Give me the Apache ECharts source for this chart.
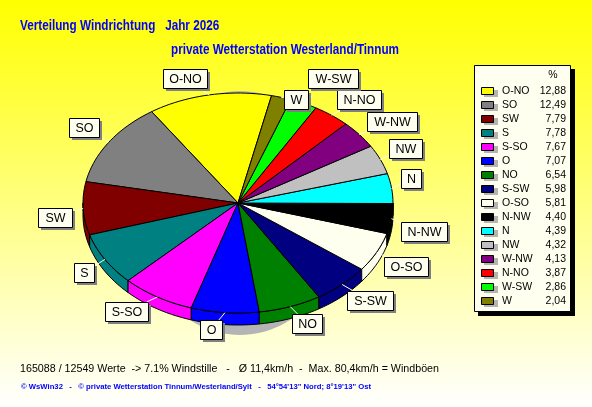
<!DOCTYPE html>
<html><head><meta charset="utf-8">
<style>html,body{margin:0;padding:0;background:#fff}#c{width:592px;height:407px}</style>
<script src="https://cdn.jsdelivr.net/npm/echarts@6/dist/echarts.min.js"></script>
</head><body><div id="c"></div>
<script>
var categories = ['O-NO','SO','SW','S','S-SO','O','NO','S-SW','O-SO','N-NW','N','NW','W-NW','N-NO','W-SW','W'];
var shares = [12.88,12.49,7.79,7.78,7.67,7.07,6.54,5.98,5.81,4.40,4.39,4.32,4.13,3.87,2.86,2.04];
var shareLabels = ['12,88','12,49','7,79','7,78','7,67','7,07','6,54','5,98','5,81','4,40','4,39','4,32','4,13','3,87','2,86','2,04'];
var colors = ['#ffff00','#808080','#800000','#008080','#ff00ff','#0000ff','#008000','#000080','#fffff0','#000000','#00ffff','#c0c0c0','#800080','#ff0000','#00ff00','#808000'];
var titleA = 'Verteilung Windrichtung   Jahr 2026';
var titleB = 'private Wetterstation Westerland/Tinnum';
var statLine = '165088 / 12549 Werte  -> 7.1% Windstille   -   Ø 11,4km/h  -  Max. 80,4km/h = Windböen';
var creditLine = '© WsWin32   -   © private Wetterstation Tinnum/Westerland/Sylt   -   54°54\'13" Nord; 8°19\'13" Ost';

/* layout (not data) */
var P = {cx:238, cy:203, rx:155, ry:110, depth:12, startDeg:77.5};
var labelBoxes = {
 'O-NO':[163,69,44],'SO':[69,118,30],'W':[284,90,24],'W-SW':[308,69,50],'N-NO':[337,90,44],'W-NW':[367,112,50],
 'NW':[389,139,33],'N':[401,169,20],'SW':[38,208,34],'S':[74,263,20],'S-SO':[105,302,43],'O':[200,320,22],
 'N-NW':[401,222,46],'O-SO':[384,257,44],'S-SW':[347,291,46],'NO':[292,314,30]};
var LH = 19;
var total = shares.reduce(function(a,b){return a+b;},0);
var arcs = [], acc = 0;
shares.forEach(function(v){var a0=P.startDeg+acc/total*360; acc+=v; arcs.push([a0,P.startDeg+acc/total*360]);});
function pt(deg,dy){var r=deg*Math.PI/180;return [P.cx+P.rx*Math.cos(r),P.cy-P.ry*Math.sin(r)+(dy||0)];}
function arcPts(a0,a1,dy){var n=Math.max(2,Math.ceil((a1-a0)/2)),o=[];for(var i=0;i<=n;i++)o.push(pt(a0+(a1-a0)*i/n,dy));return o;}

function renderSlice(params,api){
  var i=api.value(0), a=arcs[i], ch=[];
  var bands=[[a[0],a[1]],[a[0]-360,a[1]-360]];
  bands.forEach(function(b){
    var s=Math.max(b[0],180), e=Math.min(b[1],360);
    if(e>s){
      var top=arcPts(s,e,0), bot=arcPts(s,e,P.depth).reverse();
      ch.push({type:'polygon',shape:{points:top.concat(bot)},style:{fill:colors[i],stroke:'#000',lineWidth:1}});
    }
  });
  ch.push({type:'polygon',shape:{points:[[P.cx,P.cy]].concat(arcPts(a[0],a[1],0))},style:{fill:colors[i],stroke:'#000',lineWidth:1}});
  return {type:'group',children:ch};
}
function renderShadow(){
  return {type:'ellipse',shape:{cx:P.cx+2,cy:213,rx:104,ry:122},style:{fill:'#b4b4b4'},silent:true};
}
function renderLabel(params,api){
  var i=api.value(0), name=categories[i], b=labelBoxes[name], a=arcs[i], m=(a[0]+a[1])/2;
  var p=pt(m,0), bx=b[0]+b[2]/2, by=b[1]+LH/2;
  var r=Math.hypot(bx-p[0],by-p[1]);
  var q=[p[0]+(bx-p[0])*Math.min(1,12/r),p[1]+(by-p[1])*Math.min(1,12/r)];
  return {type:'group',children:[
    {type:'line',shape:{x1:p[0],y1:p[1],x2:q[0],y2:q[1]},style:{stroke:'#fffff0',lineWidth:1}},
    {type:'rect',shape:{x:b[0]+3,y:b[1]+3,width:b[2],height:LH},style:{fill:'#808080'}},
    {type:'rect',shape:{x:b[0]+.5,y:b[1]+.5,width:b[2],height:LH},style:{fill:'#fffff0',stroke:'#000',lineWidth:1}},
    {type:'text',style:{x:bx+.5,y:by+1,text:name,fill:'#000',font:'12.5px "Liberation Sans"',align:'center',verticalAlign:'middle'}}
  ]};
}
function renderLegendRow(params,api){
  var i=api.value(0), y=91+14*i;
  return {type:'group',children:[
    {type:'rect',shape:{x:484,y:y-1,width:14,height:7},style:{fill:'#b4b4b4'}},
    {type:'rect',shape:{x:481.5,y:y-3.5,width:12,height:7},style:{fill:colors[i],stroke:'#000',lineWidth:1}},
    {type:'text',style:{x:502,y:y,text:categories[i],fill:'#000',font:'10.5px "Liberation Sans"',verticalAlign:'middle'}},
    {type:'text',style:{x:566,y:y,text:shareLabels[i],fill:'#000',font:'10.5px "Liberation Sans"',align:'right',verticalAlign:'middle'}}
  ]};
}
var idx=categories.map(function(c,i){return [i];});
var chart=echarts.init(document.getElementById('c'),null,{renderer:'canvas'});
chart.setOption({
  animation:false,
  xAxis:{show:false},yAxis:{show:false},
  graphic:[
    {type:'rect',z:-10,shape:{x:0,y:0,width:592,height:407},style:{fill:new echarts.graphic.LinearGradient(0,0,0,1,[{offset:0,color:'#ffff00'},{offset:1,color:'#ffffff'}])}},
    {type:'rect',z:1,shape:{x:478,y:69,width:97,height:247},style:{fill:'#000'}},
    {type:'rect',z:1,shape:{x:474.5,y:65.5,width:96,height:246},style:{fill:'#fffff0',stroke:'#000',lineWidth:1}},
    {type:'text',z:2,style:{x:553,y:75,text:'%',fill:'#000',font:'10.5px "Liberation Sans"',align:'center',verticalAlign:'middle'}},
    {type:'text',z:2,x:20,y:26,scaleX:0.82,style:{x:0,y:0,text:titleA,fill:'#0000ff',font:'bold 14.3px "Liberation Sans"',verticalAlign:'middle'}},
    {type:'text',z:2,x:171,y:50,scaleX:0.82,style:{x:0,y:0,text:titleB,fill:'#0000ff',font:'bold 14.3px "Liberation Sans"',verticalAlign:'middle'}},
    {type:'text',z:2,style:{x:20,y:369.5,text:statLine,fill:'#000',font:'10.7px "Liberation Sans"',verticalAlign:'middle'}},
    {type:'text',z:2,style:{x:21,y:386.5,text:creditLine,fill:'#0000ff',font:'bold 7.7px "Liberation Sans"',verticalAlign:'middle'}}
  ],
  series:[
    {type:'custom',coordinateSystem:'none',z:2,data:[[0]],renderItem:renderShadow,silent:true},
    {type:'custom',coordinateSystem:'none',z:3,data:idx,renderItem:renderSlice,silent:true},
    {type:'custom',coordinateSystem:'none',z:4,data:idx,renderItem:renderLabel,silent:true},
    {type:'custom',coordinateSystem:'none',z:4,data:idx,renderItem:renderLegendRow,silent:true}
  ]
});
</script></body></html>
